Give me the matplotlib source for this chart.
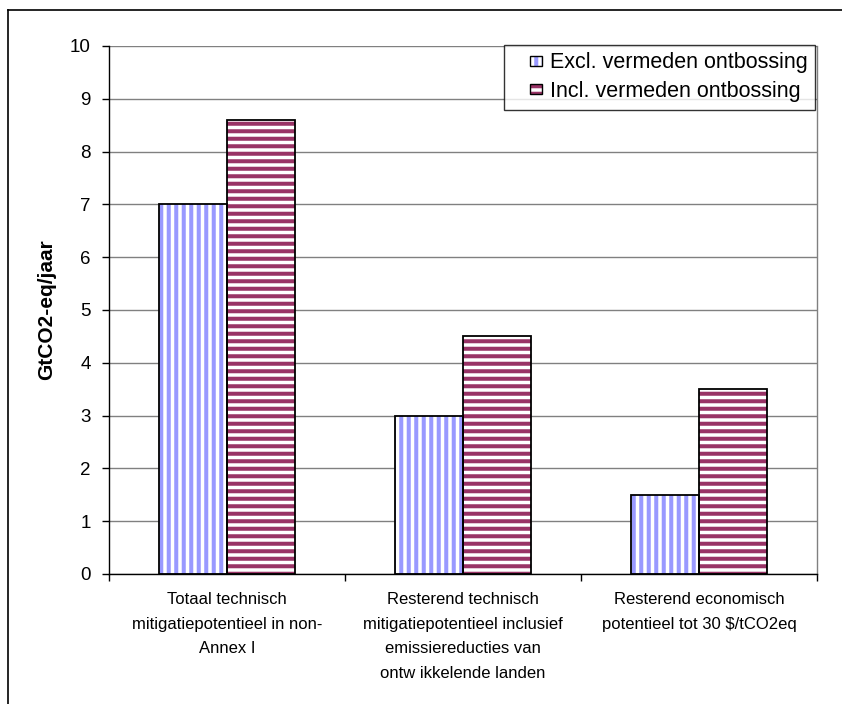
import matplotlib
matplotlib.use("Agg")
import matplotlib.pyplot as plt
from matplotlib.lines import Line2D
from matplotlib.patches import Rectangle
import numpy as np

categories = ["Totaal technisch\nmitigatiepotentieel in non-\nAnnex I",
              "Resterend technisch\nmitigatiepotentieel inclusief\nemissiereducties van\nontw ikkelende landen",
              "Resterend economisch\npotentieel tot 30 $/tCO2eq"]
excl = [7.0, 3.0, 1.5]
incl = [8.6, 4.5, 3.5]
series_names = ["Excl. vermeden ontbossing", "Incl. vermeden ontbossing"]
yticks = list(range(0, 11))

DPI = 90
S = 100 / DPI  # point scale so sizes match a 100-dpi look

plt.rcParams['font.family'] = ['Liberation Sans', 'DejaVu Sans']
plt.rcParams['hatch.linewidth'] = 2.9 * S

fig = plt.figure(figsize=(842 / DPI, 704 / DPI), dpi=DPI)
ax = fig.add_axes([109/842, 1-574/704, (817-109)/842, (574-46)/704])

x = np.arange(len(categories))
w = 0.288
blue = '#9999FF'
red = '#993366'

b1 = ax.bar(x - w/2, excl, w, color='white', edgecolor=blue, hatch='||', linewidth=0, zorder=2)
b2 = ax.bar(x + w/2, incl, w, color='white', edgecolor=red, hatch='--', linewidth=0, zorder=2)
ax.bar(x - w/2, excl, w, fill=False, edgecolor='black', linewidth=1.3 * S, zorder=3)
ax.bar(x + w/2, incl, w, fill=False, edgecolor='black', linewidth=1.3 * S, zorder=3)

ax.set_xlim(-0.5, 2.5)
ax.set_ylim(0, 10)
ax.set_yticks(yticks)
ax.set_yticklabels([str(t) for t in yticks], fontsize=13.5 * S)
ax.yaxis.grid(True, color='#808080', linewidth=1.0 * S, zorder=0)
ax.set_axisbelow(True)

ax.set_xticks(x)
ax.set_xticklabels(categories, fontsize=12 * S, linespacing=1.8)
ax.tick_params(axis='x', which='major', length=0, pad=13 * S)
ax.set_xticks([-0.5, 0.5, 1.5, 2.5], minor=True)
ax.tick_params(axis='x', which='minor', length=5 * S, width=1 * S, direction='out')
ax.tick_params(axis='y', length=5 * S, width=1 * S, direction='out', pad=8 * S)

for s in ['left', 'bottom']:
    ax.spines[s].set_color('black')
    ax.spines[s].set_linewidth(1.0 * S)
ax.spines['top'].set_visible(False)
ax.spines['right'].set_color('#808080')
ax.spines['right'].set_linewidth(1.0 * S)

ax.set_ylabel("GtCO2-eq/jaar", fontsize=15 * S, fontweight='bold', labelpad=10 * S)


class SquareHandler:
    """Small hatched square, right-aligned in the handle box."""
    def __init__(self, color, hatch):
        self.color = color
        self.hatch = hatch

    def legend_artist(self, legend, orig_handle, fontsize, handlebox):
        x0, y0 = handlebox.xdescent, handlebox.ydescent
        wb, hb = handlebox.width, handlebox.height
        sw, sh = 12 * 72 / DPI, 10 * 72 / DPI
        rx = wb - sw - x0
        ry = (hb - sh) / 2 - y0
        r1 = Rectangle((rx, ry), sw, sh, facecolor='white', edgecolor=self.color,
                       hatch=self.hatch, linewidth=0, transform=handlebox.get_transform())
        r2 = Rectangle((rx, ry), sw, sh, fill=False, edgecolor='black',
                       linewidth=1.0 * S, transform=handlebox.get_transform())
        handlebox.add_artist(r1)
        handlebox.add_artist(r2)
        return r2


leg = ax.legend([b1, b2], series_names, loc='upper right', bbox_to_anchor=(1.0 - 2/708, 1.002),
                handler_map={b1: SquareHandler(blue, '||'), b2: SquareHandler(red, '--')},
                fontsize=15.5 * S, frameon=True, fancybox=False, edgecolor='black',
                handlelength=1.44, handleheight=0.55, handletextpad=0.35,
                borderpad=0.35, labelspacing=0.35, borderaxespad=0)
leg.get_frame().set_linewidth(1.0 * S)

# outer frame (left and top edges)
fig.add_artist(Line2D([8/842, 8/842], [0, 1-10/704], transform=fig.transFigure, color='black', linewidth=1.2 * S))
fig.add_artist(Line2D([8/842, 1], [1-10/704, 1-10/704], transform=fig.transFigure, color='black', linewidth=1.2 * S))

fig.savefig("out.png", dpi=DPI)
